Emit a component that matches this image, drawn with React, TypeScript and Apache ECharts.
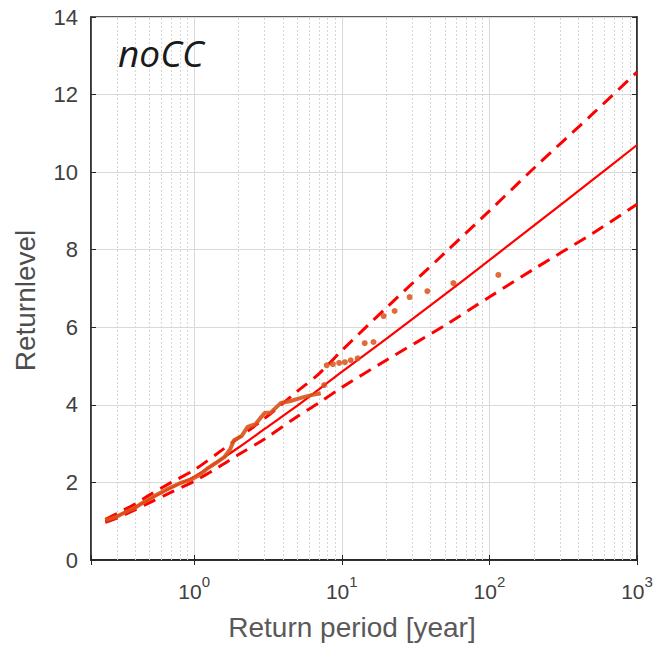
import React, { useEffect, useRef } from 'react';
import * as echarts from 'echarts';

// Fitted return level curve (central estimate and confidence bounds)
const fitPeriods = [0.25, 0.3, 0.4, 0.5, 0.7, 1, 1.5, 2, 3, 5, 7, 10, 20, 50, 100, 200, 500, 1000];
const fitCentral = [1.0, 1.13, 1.37, 1.57, 1.86, 2.15, 2.58, 2.9, 3.38, 3.98, 4.4, 4.85, 5.7, 6.85, 7.73, 8.62, 9.8, 10.7];
const fitUpper = [1.05, 1.2, 1.45, 1.68, 2.0, 2.32, 2.8, 3.15, 3.65, 4.35, 4.8, 5.4, 6.5, 7.92, 9.0, 10.1, 11.5, 12.58];
const fitLower = [0.97, 1.08, 1.3, 1.48, 1.75, 2.03, 2.42, 2.72, 3.12, 3.7, 4.05, 4.45, 5.15, 6.05, 6.78, 7.5, 8.42, 9.17];

// Empirical return levels (dense part drawn as a line)
const empPeriods = [0.25, 0.3, 0.35, 0.4, 0.437, 0.5, 0.55, 0.65, 0.8, 0.96, 1.1, 1.24, 1.4, 1.6, 1.75, 1.86, 2.1, 2.3, 2.6, 3.0, 3.3, 3.87, 4.5, 5.3, 6.2, 7.2];
const empLevels = [1.02, 1.12, 1.25, 1.35, 1.45, 1.58, 1.67, 1.82, 1.98, 2.08, 2.2, 2.37, 2.5, 2.65, 2.85, 3.09, 3.2, 3.43, 3.5, 3.79, 3.8, 4.05, 4.1, 4.18, 4.25, 4.3];

// Empirical return levels (sparse part drawn as dots)
const dotPeriods = [7.6, 7.9, 8.7, 9.6, 10.5, 11.5, 12.8, 14.3, 16.4, 19.2, 22.8, 28.8, 38, 57, 115];
const dotLevels = [4.51, 5.02, 5.05, 5.08, 5.1, 5.15, 5.2, 5.59, 5.62, 6.29, 6.42, 6.78, 6.93, 7.14, 7.35];

// Axis settings
const xMin = 0.2;
const xMax = 1000;
const yMin = 0;
const yMax = 14;
const yStep = 2;
const xMinorTicks = [
  0.3, 0.4, 0.5, 0.6, 0.7, 0.8, 0.9,
  2, 3, 4, 5, 6, 7, 8, 9,
  20, 30, 40, 50, 60, 70, 80, 90,
  200, 300, 400, 500, 600, 700, 800, 900,
];

const panelLabel = 'noCC';
const xName = 'Return period [year]';
const yName = 'Returnlevel';

const RED = '#ff0000';
const ORANGE = '#d95319';
const AXIS = '#262626';
const LABEL = '#404040';
const FONT = '"Liberation Sans", Arial, Helvetica, sans-serif';

function pairs(xs: number[], ys: number[]) {
  return xs.map((x, i) => [x, ys[i]]);
}

export default function App() {
  const ref = useRef<HTMLDivElement>(null);

  useEffect(() => {
    document.body.style.margin = '0';
    if (!ref.current) return;
    const chart = echarts.init(ref.current, undefined, { renderer: 'svg' });

    const xLabelFmt = (v: number) => {
      const e = Math.log10(v);
      const r = Math.round(e);
      if (Math.abs(e - r) < 1e-6) return `{b|10}{s|${r}}`;
      return '';
    };

    const option: any = {
      animation: false,
      backgroundColor: '#ffffff',
      title: {
        text: panelLabel,
        left: 113,
        top: 29,
        textStyle: {
          fontFamily: '"Open Sans", sans-serif',
          fontStyle: 'italic',
          fontWeight: 'normal',
          fontSize: 37,
          color: '#1a1a1a',
        },
      },
      grid: {
        left: 91,
        right: 21,
        top: 17,
        bottom: 90,
        show: true,
        borderColor: AXIS,
        borderWidth: 1.5,
        backgroundColor: 'transparent',
      },
      xAxis: [
        {
          type: 'log',
          logBase: 10,
          min: xMin,
          max: xMax,
          position: 'bottom',
          name: xName,
          nameLocation: 'middle',
          nameGap: 53,
          nameTextStyle: { fontFamily: FONT, fontSize: 28, color: '#595959', padding: [0, 24, 0, 0] },
          axisLine: { show: true, lineStyle: { color: AXIS, width: 1.5 } },
          axisTick: { show: true, inside: true, length: 5, lineStyle: { color: AXIS } },
          axisLabel: {
            margin: 14,
            formatter: xLabelFmt,
            rich: {
              b: { fontFamily: FONT, fontSize: 21, color: LABEL, verticalAlign: 'bottom', lineHeight: 28 },
              s: { fontFamily: FONT, fontSize: 15, color: LABEL, verticalAlign: 'top', lineHeight: 28 },
            },
          },
          splitLine: { show: true, lineStyle: { color: '#dadada', width: 1 } },
        },
        {
          type: 'log',
          logBase: 10,
          min: xMin,
          max: xMax,
          position: 'top',
          axisLine: { show: true, lineStyle: { color: AXIS, width: 1.5 } },
          axisTick: { show: true, inside: true, length: 5, lineStyle: { color: AXIS } },
          axisLabel: { show: false },
          splitLine: { show: false },
        },
      ],
      yAxis: [
        {
          type: 'value',
          min: yMin,
          max: yMax,
          interval: yStep,
          position: 'left',
          name: yName,
          nameLocation: 'middle',
          nameGap: 52,
          nameTextStyle: { fontFamily: FONT, fontSize: 28, color: '#4d4d4d', padding: [0, 24, 0, 0] },
          axisLine: { show: true, lineStyle: { color: AXIS, width: 1.5 } },
          axisTick: { show: true, inside: true, length: 5, lineStyle: { color: AXIS } },
          axisLabel: { margin: 13, fontFamily: FONT, fontSize: 22, color: LABEL },
          splitLine: { show: true, lineStyle: { color: '#dadada', width: 1 } },
        },
        {
          type: 'value',
          min: yMin,
          max: yMax,
          interval: yStep,
          position: 'right',
          axisLine: { show: true, lineStyle: { color: AXIS, width: 1.5 } },
          axisTick: { show: true, inside: true, length: 5, lineStyle: { color: AXIS } },
          axisLabel: { show: false },
          splitLine: { show: false },
        },
      ],
      series: [
        {
          name: 'minor grid',
          type: 'line',
          data: [],
          z: 1,
          silent: true,
          markLine: {
            silent: true,
            symbol: 'none',
            z: 1,
            label: { show: false },
            lineStyle: { type: [2, 2], color: '#d6d6d6', width: 1 },
            data: xMinorTicks.map((v) => ({ xAxis: v })),
          },
        },
        {
          name: 'upper',
          type: 'line',
          data: pairs(fitPeriods, fitUpper),
          showSymbol: false,
          smooth: 0.3,
          z: 3,
          lineStyle: { color: RED, width: 3, type: [13, 8] },
        },
        {
          name: 'lower',
          type: 'line',
          data: pairs(fitPeriods, fitLower),
          showSymbol: false,
          smooth: 0.3,
          z: 3,
          lineStyle: { color: RED, width: 3, type: [13, 8] },
        },
        {
          name: 'central',
          type: 'line',
          data: pairs(fitPeriods, fitCentral),
          showSymbol: false,
          smooth: 0.3,
          z: 3,
          lineStyle: { color: RED, width: 2.2 },
        },
        {
          name: 'empirical',
          type: 'line',
          data: pairs(empPeriods, empLevels),
          showSymbol: false,
          z: 4,
          lineStyle: { color: ORANGE, width: 4, opacity: 0.9 },
        },
        {
          name: 'empirical dots',
          type: 'scatter',
          data: pairs(dotPeriods, dotLevels),
          symbolSize: 6,
          z: 4,
          itemStyle: { color: ORANGE, opacity: 0.85 },
        },
      ],
    };

    chart.setOption(option);
    return () => chart.dispose();
  }, []);

  return <div ref={ref} style={{ width: 658, height: 650 }} />;
}
